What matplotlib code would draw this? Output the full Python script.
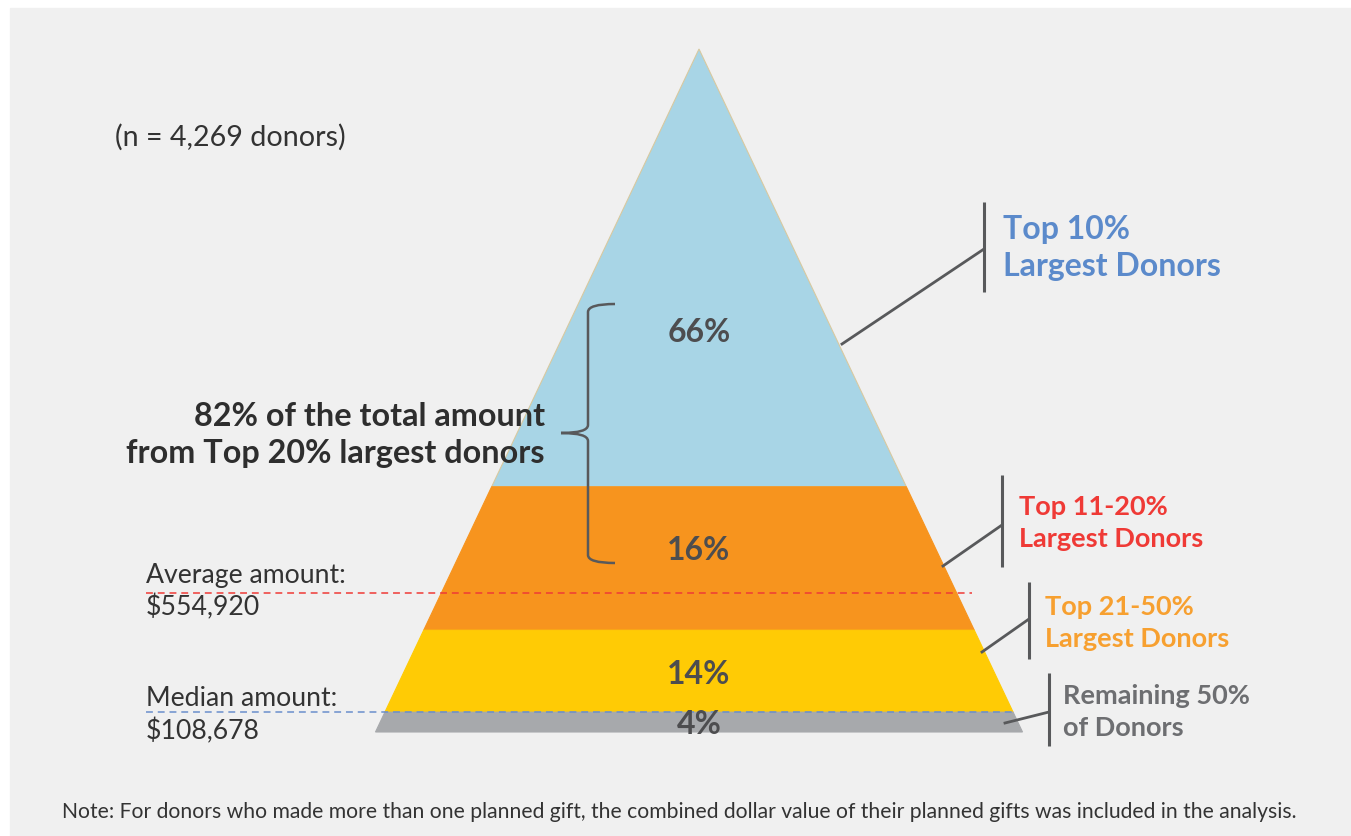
import matplotlib
matplotlib.use('Agg')
import matplotlib.pyplot as plt
from matplotlib.patches import Polygon, Rectangle
from matplotlib.path import Path
from matplotlib.patches import PathPatch

plt.rcParams['font.family'] = ['Lato', 'DejaVu Sans']

# data
shares = ['66%', '16%', '14%', '4%']
band_edges = [0.0, 0.641, 0.851, 0.971, 1.0]   # depth of each band boundary (0 = apex, 1 = base)
band_colors = ['#a8d5e6', '#f7941e', '#ffcb05', '#a7a9ac']
groups = ['Top 10%\nLargest Donors', 'Top 11-20%\nLargest Donors',
          'Top 21-50%\nLargest Donors', 'Remaining 50%\nof Donors']
group_colors = ['#5b8acb', '#ef3a36', '#f7a030', '#6d6e71']
avg_label = 'Average amount:\n$554,920'
med_label = 'Median amount:\n$108,678'
n_label = '(n = 4,269 donors)'
brace_label = '82% of the total amount\nfrom Top 20% largest donors'
note = ('Note: For donors who made more than one planned gift, the combined dollar value '
        'of their planned gifts was included in the analysis.')

W, H = 1351, 837
fig = plt.figure(figsize=(W / 100, H / 100), dpi=100)
ax = fig.add_axes([0, 0, 1, 1])
ax.set_xlim(0, W)
ax.set_ylim(H, 0)
ax.axis('off')
ax.add_patch(Rectangle((10, 9), W - 10, H - 9, color='#f0f0f0', zorder=0))

# pyramid geometry (pixels)
apex_x, apex_y = 699, 50
base_y, half_base = 733, 323.5
top_h = base_y - apex_y


def y_at(d):
    return apex_y + d * top_h


def hw_at(d):
    return half_base * d


for i in range(4):
    d0, d1 = band_edges[i], band_edges[i + 1]
    y0, y1 = y_at(d0), y_at(d1)
    pts = [(apex_x - hw_at(d0), y0), (apex_x + hw_at(d0), y0),
           (apex_x + hw_at(d1), y1), (apex_x - hw_at(d1), y1)]
    ec = '#d8c9a0' if i == 0 else band_colors[i]
    ax.add_patch(Polygon(pts, closed=True, fc=band_colors[i], ec=ec, lw=0.8, zorder=2))

# percentage labels
share_y = [332, 551, 674, 724]
for s, yy in zip(shares, share_y):
    ax.text(apex_x, yy, s, ha='center', va='center', fontsize=23, fontweight='bold',
            color='#4d4d4f', zorder=5)

# average / median lines
avg_y = 594
med_y = 713
ax.plot([146, 972], [avg_y, avg_y], ls=(0, (4.5, 3.2)), color='#ef3a36', lw=1.1, zorder=4)
ax.plot([146, 1015], [med_y, med_y], ls=(0, (4.5, 3.2)), color='#6a8fcc', lw=1.1, zorder=4)
for lbl, ys in [(avg_label, (576, 607)), (med_label, (698, 731))]:
    for line, ty in zip(lbl.split('\n'), ys):
        ax.text(146, ty, line, ha='left', va='center', fontsize=19.2, color='#333333')

ax.text(115, 137, n_label, ha='left', va='center', fontsize=20.6, color='#333333')

# brace
bx, tip_x, top_y, bot_y, mid_y, end_x = 588, 561, 305, 564, 434, 615
verts = [(end_x, top_y), (bx, top_y), (bx, top_y + 8),
         (bx, mid_y - 8),
         (bx, mid_y), (tip_x, mid_y),
         (bx, mid_y), (bx, mid_y + 8),
         (bx, bot_y - 8),
         (bx, bot_y), (end_x, bot_y)]
codes = [Path.MOVETO, Path.CURVE3, Path.CURVE3,
         Path.LINETO,
         Path.CURVE3, Path.CURVE3,
         Path.CURVE3, Path.CURVE3,
         Path.LINETO,
         Path.CURVE3, Path.CURVE3]
ax.add_patch(PathPatch(Path(verts, codes), fc='none', ec='#58595b', lw=1.8, zorder=4))
for line, ty in zip(brace_label.split('\n'), (417, 454)):
    ax.text(545, ty, line, ha='right', va='center', fontsize=23.3, fontweight='bold',
            color='#2e2e2e')

# callouts: vertical bar x, bar top, bar bottom, leader start (x, y), leader end y, text x, line ys, size
callouts = [
    (984, 203, 293, (842, 345), 250, 1003, (229, 266), 23),
    (1002, 476, 568, (943, 567), 526, 1019, (507, 539), 19.5),
    (1029, 583, 660, (982, 653), 620, 1045, (607, 639), 19.5),
    (1049, 674, 747, (1005, 724), 713, 1063, (696, 728), 19.5),
]
for (vx, vt, vb, (lx, ly), ey, tx, tys, fs), g, c in zip(callouts, groups, group_colors):
    ax.plot([vx, vx], [vt, vb], color='#58595b', lw=2.2, solid_capstyle='butt', zorder=4)
    ax.plot([lx, vx], [ly, ey], color='#58595b', lw=2.0, zorder=4)
    for line, ty in zip(g.split('\n'), tys):
        ax.text(tx, ty, line, ha='left', va='center', fontsize=fs, fontweight='bold', color=c)

ax.text(62, 812, note, ha='left', va='center', fontsize=15.25, color='#333333')

fig.savefig('out.png', dpi=100, facecolor='white')
